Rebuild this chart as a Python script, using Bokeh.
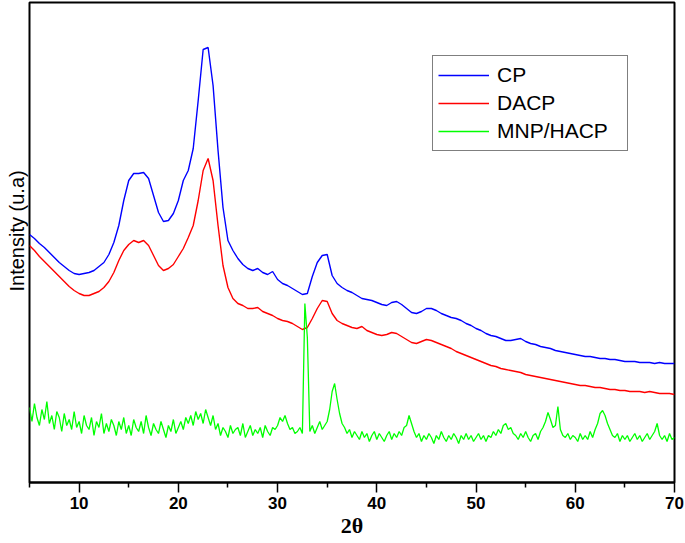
import numpy as np
from bokeh.plotting import figure
from bokeh.models import FixedTicker, Legend, LegendItem, Title, Range1d
from bokeh.embed import file_html
from bokeh.resources import INLINE

# 2-theta sampling grids (degrees)
two_theta = np.linspace(5, 70, 131)        # 0.5 deg steps for CP / DACP
two_theta_fine = np.linspace(5, 70, 261)   # 0.25 deg steps for MNP/HACP

# Intensities (arbitrary units)
cp = [
    253, 249, 244, 240, 235, 230, 225, 221, 217, 214,
    213, 214, 215, 217, 221, 225, 233, 245, 262, 287,
    307, 314, 314, 315, 309, 292, 275, 266, 267, 274,
    287, 307, 317, 339, 387, 438, 440, 402, 337, 280,
    247, 237, 229, 223, 219, 217, 219, 215, 213, 216,
    208, 204, 202, 199, 196, 193, 194, 211, 225, 232,
    233, 212, 204, 200, 197, 195, 192, 189, 188, 187,
    185, 183, 182, 185, 186, 183, 179, 175, 174, 176,
    179, 179, 177, 174, 172, 170, 169, 167, 164, 162,
    159, 157, 154, 152, 151, 149, 147, 147, 148, 149,
    146, 144, 143, 141, 140, 139, 137, 136, 135, 134,
    133, 132, 131, 131, 130, 129, 129, 128, 128, 127,
    126, 126, 126, 125, 125, 125, 124, 125, 124, 124,
    124,
]

dacp = [
    242, 237, 231, 226, 221, 216, 211, 206, 201, 197,
    194, 192, 192, 194, 196, 200, 206, 215, 227, 237,
    243, 247, 245, 247, 242, 232, 222, 217, 219, 223,
    231, 239, 250, 262, 287, 317, 329, 307, 262, 222,
    200, 189, 184, 182, 179, 179, 180, 176, 174, 172,
    169, 167, 166, 164, 161, 158, 160, 169, 179, 187,
    186, 174, 167, 164, 162, 160, 159, 161, 157, 155,
    153, 152, 153, 155, 154, 151, 148, 145, 144, 146,
    148, 147, 145, 143, 141, 139, 136, 134, 132, 130,
    128, 126, 124, 122, 121, 119, 118, 117, 116, 115,
    113, 112, 111, 110, 109, 108, 107, 106, 105, 104,
    103, 102, 102, 101, 100, 100, 99, 98, 98, 97,
    97, 96, 96, 96, 95, 96, 95, 94, 94, 94,
    93,
]

mnp_hacp = [
    80, 66, 84, 70,  62, 78, 68, 86,  64, 72, 58, 76,  70, 56, 74, 62,  68, 58, 76, 60,
    66, 54, 72, 62,  58, 70, 52, 66,  60, 74, 54, 64,  56, 68, 62, 52,  66, 58, 70, 54,
    62, 52, 68, 60,  56, 66, 54, 72,  60, 52, 64, 58,  54, 66, 58, 50,  62, 56, 68, 54,
    60, 66, 58, 70,  64, 72, 62, 76,  68, 74, 64, 78,  70, 62, 72, 58,  64, 52, 60, 56,
    50, 62, 54, 58,  60, 52, 64, 50,  56, 62, 52, 58,  54, 60, 50, 62,  56, 52, 60, 58,
    62, 70, 66, 72,  64, 58, 60, 54,  56, 60, 54, 184, 150, 56, 62, 54, 60, 66, 58, 62,
    66, 78, 96, 104, 88, 74, 64, 60,  54, 58, 50, 56,  52, 48, 56, 50,  54, 46, 52, 56,
    48, 54, 50, 46,  52, 56, 48, 54,  50, 56, 52, 60,  62, 72, 64, 56,  50, 54, 46, 52,
    48, 54, 50, 44,  52, 48, 56, 50,  46, 52, 48, 54,  50, 44, 52, 48,  54, 48, 52, 46,
    50, 54, 48, 52,  46, 52, 50, 56,  52, 58, 54, 62,  64, 58, 60, 54,  52, 48, 54, 50,
    56, 50, 46, 52,  54, 48, 56, 60,  66, 75, 68, 60,  62, 81, 58, 52,  50, 54, 48, 52,
    50, 46, 54, 48,  52, 48, 56, 50,  58, 64, 74, 77,  72, 64, 58, 52,  50, 54, 46, 52,
    48, 52, 46, 50,  54, 48, 52, 46,  50, 54, 48, 52,  56, 64, 52, 48,  52, 46, 54, 48,
    50,
]

series_names = ["CP", "DACP", "MNP/HACP"]
series_colors = ["#0000FF", "#FF0000", "#00FF00"]
x_ticks = [10, 20, 30, 40, 50, 60, 70]
x_minor_ticks = [5, 15, 25, 35, 45, 55, 65]

p = figure(width=685, height=543, output_backend="svg", toolbar_location=None,
           x_range=Range1d(5, 70), y_range=Range1d(5, 485),
           min_border_left=29, min_border_right=11, min_border_top=2,
           min_border_bottom=61)

r1 = p.line(two_theta, cp, line_color=series_colors[0], line_width=1.4)
r2 = p.line(two_theta, dacp, line_color=series_colors[1], line_width=1.4)
r3 = p.line(two_theta_fine, mnp_hacp, line_color=series_colors[2], line_width=1.3)

p.xgrid.visible = False
p.ygrid.visible = False
p.yaxis.visible = False
p.outline_line_color = "black"
p.outline_line_width = 2
p.background_fill_color = "white"
p.border_fill_color = "white"

ax = p.xaxis[0]
ax.ticker = FixedTicker(ticks=x_ticks, minor_ticks=x_minor_ticks)
ax.axis_line_color = "black"
ax.axis_line_width = 2
ax.major_tick_line_color = "black"
ax.major_tick_line_width = 1.5
ax.minor_tick_line_color = "black"
ax.minor_tick_line_width = 1.5
ax.major_tick_in = 0
ax.major_tick_out = 10
ax.minor_tick_in = 0
ax.minor_tick_out = 5
ax.major_label_standoff = 4
ax.major_label_text_font = "Liberation Sans"
ax.major_label_text_font_style = "bold"
ax.major_label_text_font_size = "17px"
ax.major_label_text_color = "black"
ax.axis_label = "2θ"
ax.axis_label_standoff = 1
ax.axis_label_text_font = "Liberation Serif"
ax.axis_label_text_font_style = "bold"
ax.axis_label_text_font_size = "22px"
ax.axis_label_text_color = "black"

ytitle = Title(text="Intensity (u.a)", align="left", offset=191, standoff=4,
               text_font="Liberation Sans", text_font_size="20px",
               text_font_style="normal", text_color="black")
p.add_layout(ytitle, "left")

legend = Legend(items=[LegendItem(label=series_names[0], renderers=[r1]),
                       LegendItem(label=series_names[1], renderers=[r2]),
                       LegendItem(label=series_names[2], renderers=[r3])],
                location=(403, 331), padding=5, spacing=0, margin=0,
                glyph_width=51, glyph_height=28, label_height=28,
                label_width=125, label_standoff=8,
                label_text_font="Liberation Sans", label_text_font_size="21px",
                label_text_color="black",
                border_line_color="black", border_line_width=1.5,
                background_fill_color="white", background_fill_alpha=1.0)
p.add_layout(legend)

open("out.html", "w").write(file_html(p, INLINE))
